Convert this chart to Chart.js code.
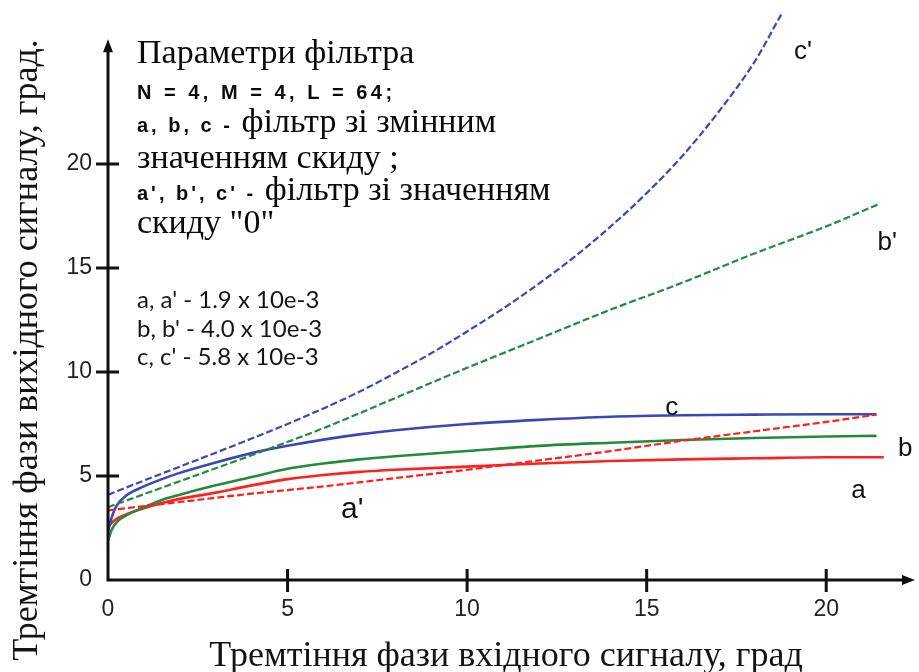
<!DOCTYPE html>
<html>
<head>
<meta charset="utf-8">
<script src="https://cdn.jsdelivr.net/npm/chart.js@4.4.1/dist/chart.umd.min.js"></script>
<style>
    html, body { margin: 0; padding: 0; background: #fff; }
    #jitterChart { display: block; }
</style>
</head>
<body>
<canvas id="jitterChart" width="919" height="672"></canvas>
<script>
const xTicks = [0, 5, 10, 15, 20];
const yTicks = [0, 5, 10, 15, 20];

// a, b, c - filter with variable reset value
const aX = [0, 0.1, 0.25, 0.5, 1, 1.5, 2, 3, 4, 5, 6, 7, 8, 10, 12, 14, 16, 18, 20, 21.6];
const aY = [2.5, 2.75, 2.95, 3.15, 3.45, 3.7, 3.9, 4.2, 4.55, 4.85, 5.05, 5.2, 5.3, 5.45, 5.6, 5.72, 5.8, 5.85, 5.9, 5.9];
const bX = [0, 0.1, 0.25, 0.5, 1, 1.5, 2, 3, 4, 5, 6, 7, 8, 10, 12, 14, 16, 18, 20, 21.4];
const bY = [1.9, 2.4, 2.8, 3.1, 3.5, 3.85, 4.1, 4.55, 4.95, 5.35, 5.6, 5.8, 5.95, 6.2, 6.45, 6.6, 6.73, 6.83, 6.9, 6.93];
const cX = [0, 0.1, 0.25, 0.5, 1, 1.5, 2, 3, 4, 5, 6, 7, 8, 10, 12, 14, 16, 18, 20, 21.4];
const cY = [2.3, 3.0, 3.6, 4.05, 4.5, 4.85, 5.15, 5.65, 6.1, 6.45, 6.75, 7.0, 7.2, 7.5, 7.7, 7.85, 7.92, 7.95, 7.97, 7.97];

// a', b', c' - filter with reset value "0"
const aPrimeX = [0, 2, 4, 6, 8, 10, 12, 14, 16, 18, 20, 21.4];
const aPrimeY = [3.35, 3.75, 4.15, 4.5, 4.9, 5.3, 5.75, 6.2, 6.7, 7.15, 7.6, 7.95];
const bPrimeX = [0, 2, 4, 6, 8, 10, 12, 14, 16, 18, 20, 21.5];
const bPrimeY = [3.5, 4.75, 6.0, 7.3, 8.75, 10.2, 11.6, 13.0, 14.3, 15.7, 17.0, 18.1];
const cPrimeX = [0, 1, 2, 3, 4, 5, 6, 7, 8, 9, 10, 11, 12, 13, 14, 15, 16, 17, 18, 18.75];
const cPrimeY = [4.1, 4.78, 5.45, 6.12, 6.8, 7.5, 8.25, 9.05, 9.95, 10.9, 11.95, 13.05, 14.25, 15.55, 17.0, 18.6, 20.4, 22.5, 24.9, 27.2];

// curve names and where they are written (data coords)
const curveLabels = [
    { text: "c'", x: 19.35, y: 25.4, size: 26 },
    { text: "b'", x: 21.7, y: 16.2, size: 26 },
    { text: "c", x: 15.7, y: 8.3, size: 26 },
    { text: "b", x: 22.2, y: 6.3, size: 26 },
    { text: "a", x: 20.9, y: 4.3, size: 26 },
    { text: "a'", x: 6.8, y: 3.4, size: 30 }
];

const RED = '#ff1f1f';
const GREEN = '#228b3a';
const BLUE = '#3d46b6';

const SERIF = '"Liberation Serif", "DejaVu Serif", serif';
const SANS = '"Liberation Sans", Arial, sans-serif';

function toPoints(xs, ys) {
    return xs.map((x, i) => ({ x: x, y: ys[i] }));
}

function curve(label, xs, ys, color, dashed) {
    return {
        label: label,
        data: toPoints(xs, ys),
        borderColor: color,
        borderWidth: dashed ? 2.2 : 2.6,
        borderDash: dashed ? [7, 3] : [],
        pointRadius: 0,
        fill: false,
        clip: false,
        cubicInterpolationMode: 'monotone'
    };
}

function arrowHead(ctx, x, y, dir) {
    ctx.beginPath();
    if (dir === 'up') {
        ctx.moveTo(x, y);
        ctx.lineTo(x - 5, y + 13);
        ctx.lineTo(x + 5, y + 13);
    } else {
        ctx.moveTo(x, y);
        ctx.lineTo(x - 13, y - 5);
        ctx.lineTo(x - 13, y + 5);
    }
    ctx.closePath();
    ctx.fill();
}

const axesAndNotes = {
    id: 'axesAndNotes',
    afterDraw(chart) {
        const { ctx, chartArea } = chart;
        const xs = chart.scales.x;
        const ys = chart.scales.y;
        const x0 = xs.getPixelForValue(0);
        const y0 = ys.getPixelForValue(0);

        ctx.save();
        ctx.strokeStyle = '#111';
        ctx.fillStyle = '#111';
        ctx.lineWidth = 3;
        ctx.lineCap = 'butt';

        // axis lines with arrows
        const yTop = ys.getPixelForValue(26);
        const xEnd = chartArea.right - 1;
        ctx.beginPath();
        ctx.moveTo(x0, y0 + 1.5);
        ctx.lineTo(x0, yTop + 8);
        ctx.moveTo(x0 - 1.5, y0);
        ctx.lineTo(xEnd - 8, y0);
        ctx.stroke();
        arrowHead(ctx, x0, yTop, 'up');
        arrowHead(ctx, xEnd, y0, 'right');

        // crossing tick marks
        ctx.beginPath();
        xTicks.forEach(v => {
            if (v === 0) return;
            const px = xs.getPixelForValue(v);
            ctx.moveTo(px, y0 - 11);
            ctx.lineTo(px, y0 + 12);
        });
        yTicks.forEach(v => {
            if (v === 0) return;
            const py = ys.getPixelForValue(v);
            ctx.moveTo(x0 - 12, py);
            ctx.lineTo(x0 + 11, py);
        });
        ctx.stroke();

        // axis titles
        ctx.fillStyle = '#141414';
        ctx.font = '36px ' + SERIF;
        ctx.textAlign = 'center';
        ctx.textBaseline = 'alphabetic';
        ctx.fillText('Тремтіння фази вхідного сигналу, град', 506, 666);
        ctx.save();
        ctx.translate(37, 350);
        ctx.rotate(-Math.PI / 2);
        ctx.fillText('Тремтіння фази вихідного сигналу, град.', 0, 0);
        ctx.restore();

        // filter parameters block
        const left = 137;
        const serifBlock = '34px ' + SERIF;
        ctx.textAlign = 'left';
        ctx.fillStyle = '#0a0a0a';
        ctx.font = serifBlock;
        ctx.fillText('Параметри фільтра', left, 63);

        const boldSans = 'bold 20px ' + SANS;
        ctx.font = boldSans;
        ctx.letterSpacing = '3.5px';
        ctx.fillText('N = 4, M = 4, L = 64;', left, 99);

        const mixed = [
            ['a, b, c - ', 'фільтр зі змінним', 132],
            ["a', b', c' - ", 'фільтр зі значенням', 200]
        ];
        mixed.forEach(([head, tail, base]) => {
            ctx.font = boldSans;
            ctx.letterSpacing = '3px';
            ctx.fillText(head, left, base);
            const w = ctx.measureText(head).width;
            ctx.letterSpacing = '0px';
            ctx.font = serifBlock;
            ctx.fillText(tail, left + w, base);
        });
        ctx.letterSpacing = '0px';
        ctx.font = serifBlock;
        ctx.fillText('значенням скиду ;', left, 168);
        ctx.fillText('скиду "0"', left, 233);

        ctx.font = '24px Lato, "Open Sans", sans-serif';
        ctx.fillStyle = '#151515';
        ctx.fillText("a, a' - 1.9 x 10e-3", left, 308);
        ctx.fillText("b, b' - 4.0 x 10e-3", left, 337);
        ctx.fillText("c, c' - 5.8 x 10e-3", left, 365);

        // curve names
        ctx.fillStyle = '#111';
        ctx.textAlign = 'center';
        ctx.textBaseline = 'middle';
        curveLabels.forEach(l => {
            ctx.font = l.size + 'px ' + SANS;
            ctx.fillText(l.text, xs.getPixelForValue(l.x), ys.getPixelForValue(l.y));
        });
        ctx.restore();
    }
};

const ctx = document.getElementById('jitterChart').getContext('2d');
new Chart(ctx, {
    type: 'line',
    data: {
        datasets: [
            curve("c'", cPrimeX, cPrimeY, BLUE, true),
            curve("b'", bPrimeX, bPrimeY, GREEN, true),
            curve("a'", aPrimeX, aPrimeY, RED, true),
            curve('c', cX, cY, BLUE, false),
            curve('b', bX, bY, GREEN, false),
            curve('a', aX, aY, RED, false)
        ]
    },
    options: {
        responsive: false,
        animation: false,
        layout: { padding: { top: 8, right: 3, left: 0, bottom: 0 } },
        plugins: {
            legend: { display: false },
            tooltip: { enabled: false }
        },
        scales: {
            x: {
                type: 'linear',
                min: 0,
                max: 22.5,
                afterBuildTicks: s => { s.ticks = xTicks.map(v => ({ value: v })); },
                afterFit: s => {
                    s.height = 92;
                    s.paddingLeft = 0;
                    s.paddingRight = 0;
                },
                grid: { display: false, drawTicks: false },
                border: { display: false },
                ticks: {
                    padding: 16,
                    maxRotation: 0,
                    color: '#222',
                    font: { family: 'Liberation Sans', size: 23 }
                }
            },
            y: {
                type: 'linear',
                min: 0,
                max: 27.5,
                afterBuildTicks: s => { s.ticks = yTicks.map(v => ({ value: v })); },
                afterFit: s => {
                    s.width = 108;
                    s.paddingTop = 0;
                    s.paddingBottom = 0;
                },
                grid: { display: false, drawTicks: false },
                border: { display: false },
                ticks: {
                    padding: 16,
                    color: '#222',
                    font: { family: 'Liberation Sans', size: 23 }
                }
            }
        }
    },
    plugins: [axesAndNotes]
});
</script>
</body>
</html>
